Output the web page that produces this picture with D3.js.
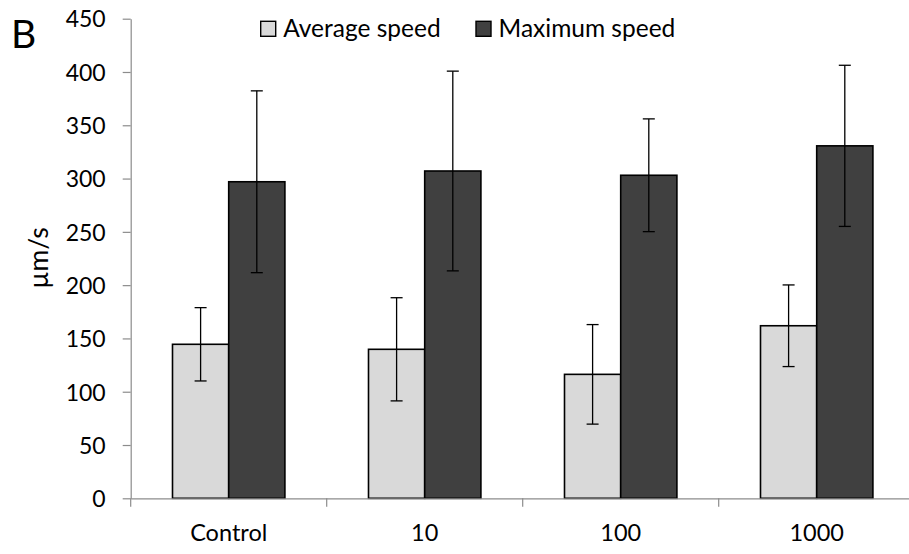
<!DOCTYPE html>
<html>
<head>
<meta charset="utf-8">
<script src="https://cdn.jsdelivr.net/npm/d3@7"></script>
<style>
  html, body { margin: 0; padding: 0; background: #fff; }
  svg { display: block; font-family: Lato, "Open Sans", sans-serif; }
</style>
</head>
<body>
<svg id="chart" width="909" height="554"></svg>
<script>
const categories = ["Control", "10", "100", "1000"];
const seriesNames = ["Average speed", "Maximum speed"];
const averageSpeed = [144.5, 139.8, 116.3, 161.9];
const averageErr = [34.4, 48.4, 46.7, 38.3];
const maximumSpeed = [297.0, 307.1, 303.1, 330.7];
const maximumErr = [85.3, 93.7, 52.9, 75.6];
const yTicks = [0, 50, 100, 150, 200, 250, 300, 350, 400, 450];
const yLabel = "\u00b5m/s";
const panelLetter = "B";

(function () {
const svg = d3.select("#chart");
const plotLeft = 130.7, plotRight = 914.7, plotTop = 18.7, plotBottom = 498.3;

const x = d3.scaleBand().domain(categories).range([plotLeft, plotRight]).padding(0);
const y = d3.scaleLinear().domain([0, 450]).range([plotBottom, plotTop]);
const inner = d3.scaleBand().domain(seriesNames).range([0, 112.4]);
const fills = ["#d9d9d9", "#404040"];
const axisColor = "#8c8c8c";

const rows = categories.map((c, i) => ({
  cat: c,
  vals: [
    { s: seriesNames[0], v: averageSpeed[i], e: averageErr[i] },
    { s: seriesNames[1], v: maximumSpeed[i], e: maximumErr[i] }
  ]
}));

// Y axis
const yAxis = d3.axisLeft(y).tickValues(yTicks).tickSize(8).tickPadding(17).tickSizeOuter(0);
const gy = svg.append("g").attr("transform", `translate(${plotLeft},0)`).call(yAxis);
gy.select(".domain").attr("stroke", axisColor).attr("stroke-width", 1.2);
gy.selectAll(".tick line").attr("stroke", axisColor).attr("stroke-width", 1.2);
gy.selectAll(".tick text").attr("fill", "#000").style("font-size", "23px")
  .style("font-family", "Lato, 'Open Sans', sans-serif").attr("dy", "0.36em");

// Bars
const groups = svg.append("g").selectAll("g").data(rows).join("g")
  .attr("transform", d => `translate(${x(d.cat) + x.bandwidth() / 2 - inner.range()[1] / 2},0)`);

groups.selectAll("rect").data(d => d.vals).join("rect")
  .attr("x", d => inner(d.s))
  .attr("y", d => y(d.v))
  .attr("width", inner.bandwidth())
  .attr("height", d => y(0) - y(d.v))
  .attr("fill", (d, i) => fills[i])
  .attr("stroke", "#000")
  .attr("stroke-width", 1.6);

// X axis (drawn after bars)
const xAxis = d3.axisBottom(x).tickSize(0).tickPadding(0).tickSizeOuter(0);
const gx = svg.append("g").attr("transform", `translate(0,${plotBottom})`).call(xAxis);
gx.select(".domain").attr("stroke", axisColor).attr("stroke-width", 1.2);
gx.selectAll(".tick text").attr("fill", "#000").style("font-size", "23.5px")
  .style("font-family", "Lato, 'Open Sans', sans-serif")
  .attr("dy", null).attr("y", 42.5);
gx.selectAll(".divider").data(categories.map(c => x(c)).concat([plotRight])).join("line")
  .attr("class", "divider")
  .attr("x1", d => d).attr("x2", d => d)
  .attr("y1", 0).attr("y2", 8.5)
  .attr("stroke", axisColor).attr("stroke-width", 1.2);

// Error bars
const eb = groups.selectAll("g.err").data(d => d.vals).join("g").attr("class", "err")
  .attr("transform", d => `translate(${inner(d.s) + inner.bandwidth() / 2},0)`);
eb.append("line").attr("x1", 0).attr("x2", 0)
  .attr("y1", d => y(d.v - d.e)).attr("y2", d => y(d.v + d.e))
  .attr("stroke", "#000").attr("stroke-width", 1.3);
eb.selectAll("line.cap").data(d => [d.v - d.e, d.v + d.e]).join("line").attr("class", "cap")
  .attr("x1", -6).attr("x2", 6)
  .attr("y1", v => y(v)).attr("y2", v => y(v))
  .attr("stroke", "#000").attr("stroke-width", 1.3);

// Y label
svg.append("text")
  .attr("transform", `translate(48,258) rotate(-90)`)
  .attr("text-anchor", "middle")
  .style("font-size", "26.5px")
  .text(yLabel);

// Panel letter
svg.append("text").attr("x", 11).attr("y", 48)
  .style("font-size", "39px").text(panelLetter);

// Legend
const legendX = [260.7, 476];
const lg = svg.append("g").selectAll("g").data(seriesNames).join("g")
  .attr("transform", (d, i) => `translate(${legendX[i]},21.3)`);
lg.append("rect").attr("width", 15).attr("height", 15)
  .attr("fill", (d, i) => fills[i]).attr("stroke", "#000").attr("stroke-width", 1.4);
lg.append("text").attr("x", 22.5).attr("y", 15.8)
  .style("font-size", "24.5px").text(d => d);
})();
</script>
</body>
</html>
